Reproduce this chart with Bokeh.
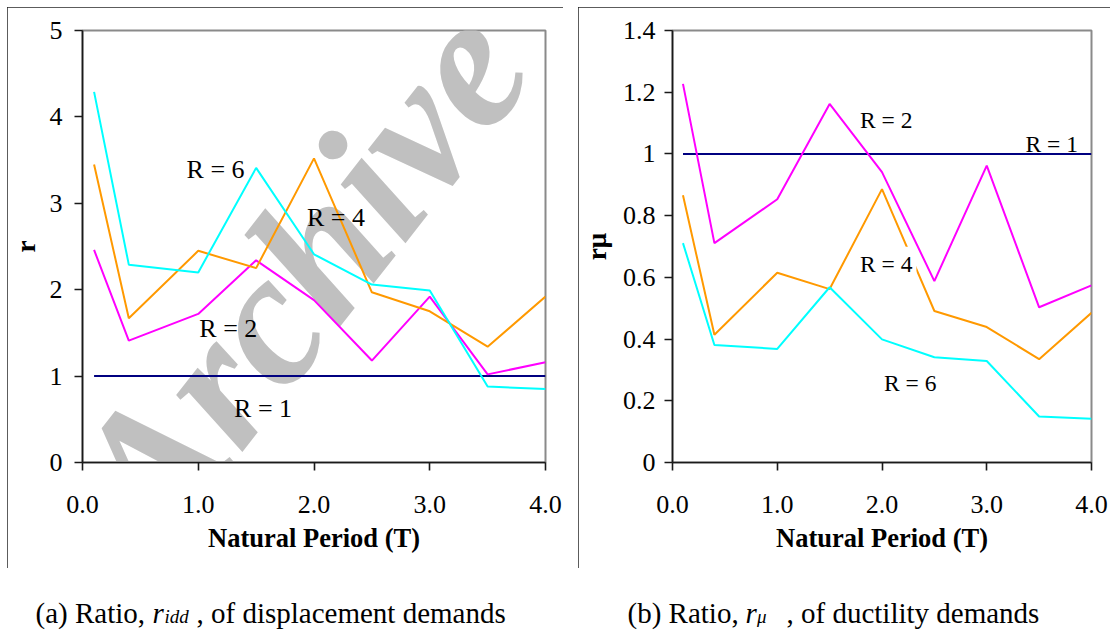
import math
from bokeh.plotting import figure
from bokeh.models import Range1d, FixedTicker, Label
from bokeh.layouts import row, column
from bokeh.embed import file_html
from bokeh.resources import INLINE

# ---------------- data ----------------
T = [0.1, 0.4, 1.0, 1.5, 2.0, 2.5, 3.0, 3.5, 4.0]

# (a) ratio of displacement demands r_idd
ridd_R1 = [1.0, 1.0, 1.0, 1.0, 1.0, 1.0, 1.0, 1.0, 1.0]
ridd_R2 = [2.46, 1.41, 1.72, 2.34, 1.88, 1.18, 1.92, 1.02, 1.16]
ridd_R4 = [3.45, 1.67, 2.45, 2.25, 3.52, 1.97, 1.75, 1.34, 1.92]
ridd_R6 = [4.29, 2.29, 2.20, 3.41, 2.41, 2.06, 1.99, 0.88, 0.85]

# (b) ratio of ductility demands r_mu
rmu_R1 = [1.0, 1.0, 1.0, 1.0, 1.0, 1.0, 1.0, 1.0, 1.0]
rmu_R2 = [1.227, 0.711, 0.853, 1.162, 0.941, 0.588, 0.962, 0.503, 0.574]
rmu_R4 = [0.866, 0.414, 0.615, 0.562, 0.886, 0.491, 0.439, 0.335, 0.485]
rmu_R6 = [0.711, 0.381, 0.368, 0.568, 0.399, 0.341, 0.329, 0.149, 0.142]

x_ticks = [0, 1, 2, 3, 4]
x_tick_labels = ["0.0", "1.0", "2.0", "3.0", "4.0"]
ridd_ticks = [0, 1, 2, 3, 4, 5]
ridd_tick_labels = ["0", "1", "2", "3", "4", "5"]
rmu_ticks = [0, 0.2, 0.4, 0.6, 0.8, 1.0, 1.2, 1.4]
rmu_tick_labels = ["0", "0.2", "0.4", "0.6", "0.8", "1", "1.2", "1.4"]

series_colors = ["#000080", "#FF00FF", "#FF9900", "#00FFFF"]

x_title = "Natural Period (T)"
y_title_a = "r"
y_title_b = "r\u03bc"
caption_a = ["(a) Ratio, ", "r", "idd", ", of displacement demands"]
caption_b = ["(b) Ratio, ", "r", "\u03bc", ", of ductility demands"]

# ---------------- styling / layout ----------------
SERIF = "Liberation Serif"
AX_COL = "#1a1a1a"
BOX_CSS = {"outline": "1.6px solid #262626", "outline-offset": "-1.6px"}


def make_panel(width, height, fl, fr, ft, fb, ymax, yticks, ylabels, ystand,
               ytitle, ytitle_stand):
    p = figure(width=width, height=height, title=None,
               x_range=Range1d(0, 4), y_range=Range1d(0, ymax),
               output_backend="svg", toolbar_location=None,
               min_border_left=fl, min_border_right=width - fr,
               min_border_top=ft, min_border_bottom=height - fb)
    p.background_fill_color = "white"
    p.border_fill_color = "white"
    p.outline_line_color = "#8a8a8a"
    p.outline_line_width = 2
    p.xgrid.visible = False
    p.ygrid.visible = False
    for ax in (p.xaxis[0], p.yaxis[0]):
        ax.axis_line_color = AX_COL
        ax.axis_line_width = 1.6
        ax.major_tick_line_color = AX_COL
        ax.major_tick_line_width = 1.6
        ax.major_tick_out = 8
        ax.major_tick_in = 0
        ax.minor_tick_line_color = None
        ax.major_label_text_font = SERIF
        ax.major_label_text_font_size = "26px"
        ax.major_label_text_color = "black"
        ax.axis_label_text_font = SERIF
        ax.axis_label_text_font_style = "bold"
        ax.axis_label_text_color = "black"
    xa, ya = p.xaxis[0], p.yaxis[0]
    xa.ticker = FixedTicker(ticks=x_ticks)
    xa.major_label_overrides = dict(zip(x_ticks, x_tick_labels))
    xa.major_label_standoff = 25
    xa.axis_label = x_title
    xa.axis_label_text_font_size = "26.5px"
    xa.axis_label_standoff = 7
    ya.ticker = FixedTicker(ticks=yticks)
    ya.major_label_overrides = dict(zip(yticks, ylabels))
    ya.major_label_standoff = ystand
    ya.axis_label = ytitle
    ya.axis_label_text_font_size = "27px"
    ya.axis_label_standoff = ytitle_stand
    p.styles = BOX_CSS
    return p


# page positions: left box (7,7)-(563,568), frame x 81..545, y 30..462
#                 right box (578,7)-(1110,568), frame x 670..1091, y 30..464
L = dict(x0=81, x1=545, y0=462, y1=30, ymax=5.0)
R = dict(x0=670, x1=1091, y0=464, y1=30, ymax=1.4)


def to_data(m, px, py):
    return ((px - m["x0"]) / (m["x1"] - m["x0"]) * 4.0,
            (m["y0"] - py) / (m["y0"] - m["y1"]) * m["ymax"])


pa = make_panel(556, 561, 74, 538, 23, 455, 5, ridd_ticks, ridd_tick_labels, 12, y_title_a, 6)
pb = make_panel(532, 561, 92, 513, 23, 457, 1.4, rmu_ticks, rmu_tick_labels, 9, y_title_b, 8)
pa.margin = (7, 0, 0, 7)
pb.margin = (7, 0, 0, 15)

# watermark (behind the data)
wx, wy = to_data(L, 110, 515)
pa.add_layout(Label(x=wx, y=wy, text="Archive of SID", angle=math.radians(52),
                    text_font=SERIF, text_font_style="bold italic",
                    text_font_size="190px", text_color="#c0c0c0",
                    text_align="left", text_baseline="alphabetic",
                    level="underlay"))

for p, ys in ((pa, [ridd_R1, ridd_R2, ridd_R4, ridd_R6]),
              (pb, [rmu_R1, rmu_R2, rmu_R4, rmu_R6])):
    for vals, col in zip(ys, series_colors):
        p.line(T, vals, line_color=col, line_width=2)

# series labels (data positions)
lab_a = {"R = 6": (1.15, 3.39), "R = 4": (2.19, 2.83), "R = 2": (1.26, 1.55), "R = 1": (1.56, 0.62)}
lab_b = {"R = 2": (2.04, 1.109), "R = 1": (3.62, 1.031), "R = 4": (2.04, 0.644), "R = 6": (2.27, 0.258)}
for name, (x, y) in lab_a.items():
    pa.add_layout(Label(x=x, y=y, text=name, text_font=SERIF, text_font_size="26px",
                        text_align="center", text_baseline="middle", text_color="black"))
for name, (x, y) in lab_b.items():
    kw = dict(background_fill_color="white", padding=4) if name == "R = 4" else {}
    pb.add_layout(Label(x=x, y=y, text=name, text_font=SERIF, text_font_size="23.5px",
                        text_align="center", text_baseline="middle", text_color="black", **kw))

# captions figure (data units == page pixels, y measured from bottom of page)
cap = figure(width=1112, height=61, title=None, x_range=Range1d(0, 1112), y_range=Range1d(0, 61),
             x_axis_type=None, y_axis_type=None, toolbar_location=None,
             output_backend="svg", min_border=0, outline_line_color=None)
cap.background_fill_color = "white"
cap.border_fill_color = "white"
cap.margin = (2, 0, 0, 0)


def cap_text(txt, px, base, size, style):
    cap.add_layout(Label(x=px, y=631 - base, text=txt, text_font=SERIF,
                         text_font_size=size, text_font_style=style,
                         text_align="left", text_baseline="alphabetic", text_color="black"))


for parts, xs in ((caption_a, (35, 152, 164, 196)), (caption_b, (627, 745, 756.5, 786))):
    cap_text(parts[0], xs[0], 612, "29px", "normal")
    cap_text(parts[1], xs[1], 612, "29px", "italic")
    cap_text(parts[2], xs[2], 616, "19px", "italic")
    cap_text(parts[3], xs[3], 612, "29px", "normal")

layout = column(row(pa, pb, spacing=0), cap, spacing=0)
open("out.html", "w").write(file_html(layout, INLINE))
